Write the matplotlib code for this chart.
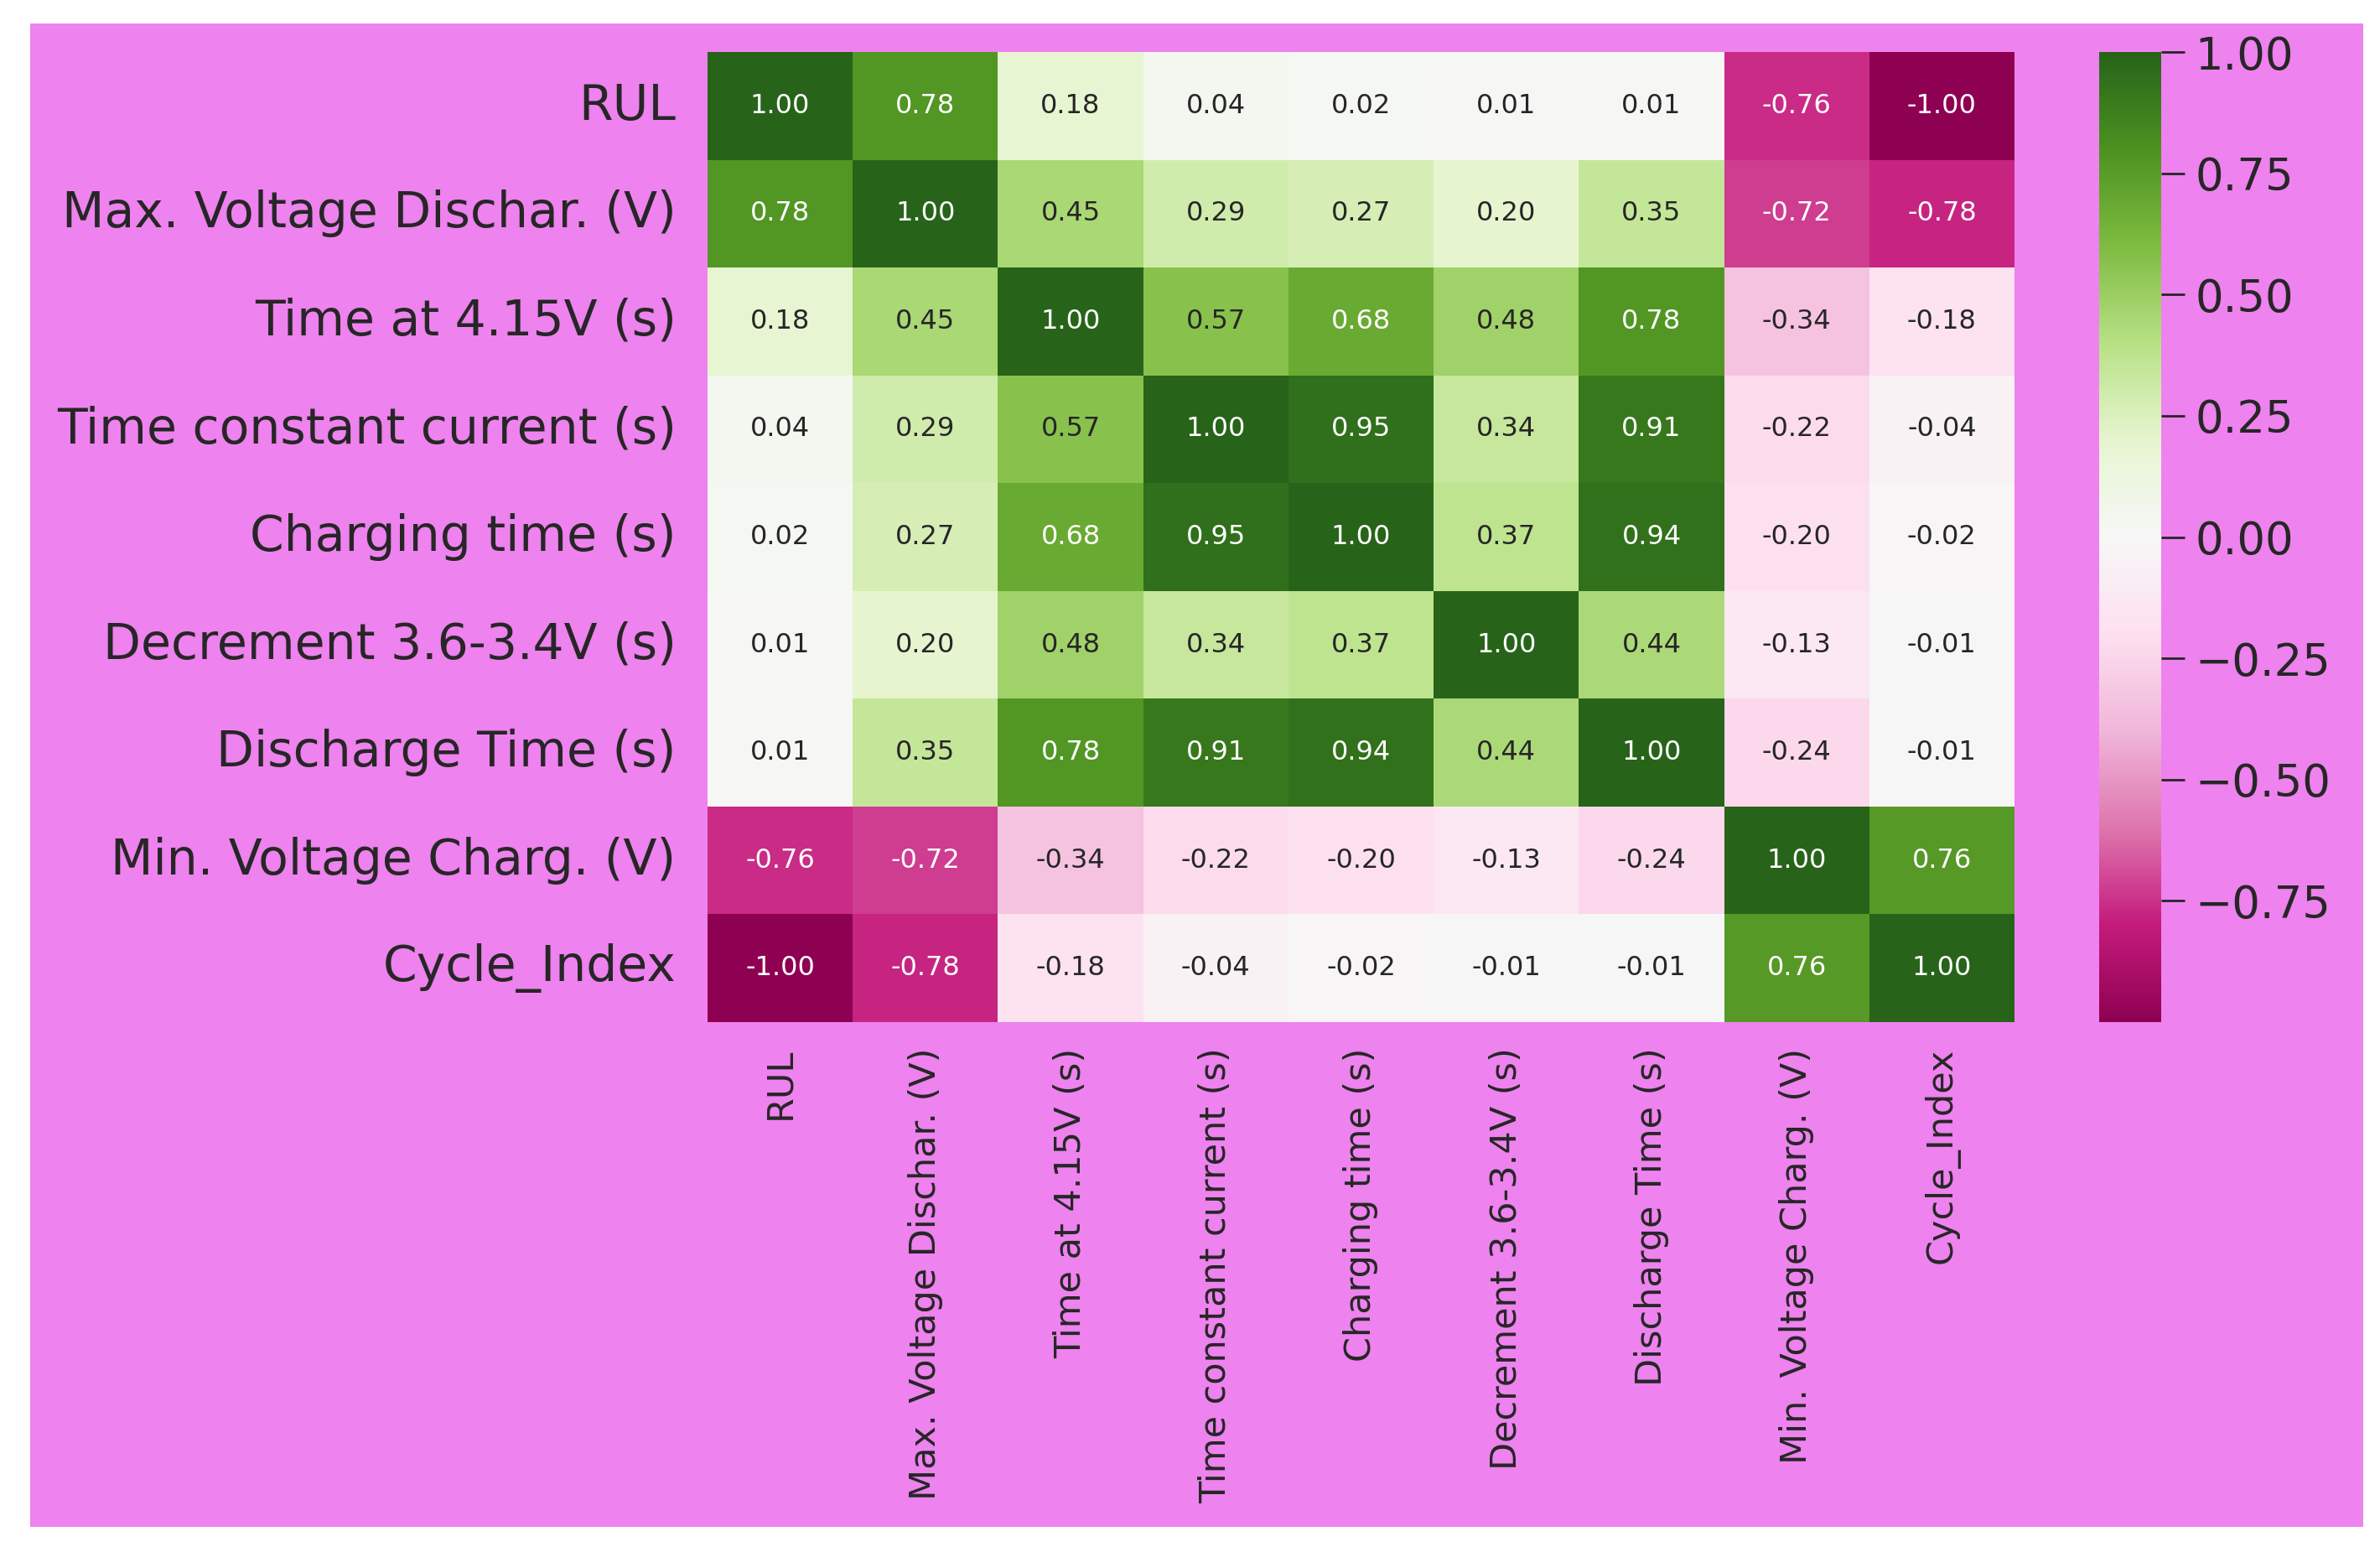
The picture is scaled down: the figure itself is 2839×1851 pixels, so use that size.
import numpy as np
import pandas as pd
import matplotlib
matplotlib.use("Agg")
import matplotlib.pyplot as plt
import seaborn as sns
from matplotlib.patches import Rectangle

# feature names (rows = columns)
features = ["RUL", "Max. Voltage Dischar. (V)", "Time at 4.15V (s)",
            "Time constant current (s)", "Charging time (s)",
            "Decrement 3.6-3.4V (s)", "Discharge Time (s)",
            "Min. Voltage Charg. (V)", "Cycle_Index"]

# correlation rows
r_rul = [1.00, 0.78, 0.18, 0.04, 0.02, 0.01, 0.01, -0.76, -1.00]
r_maxv = [0.78, 1.00, 0.45, 0.29, 0.27, 0.20, 0.35, -0.72, -0.78]
r_t415 = [0.18, 0.45, 1.00, 0.57, 0.68, 0.48, 0.78, -0.34, -0.18]
r_tcc = [0.04, 0.29, 0.57, 1.00, 0.95, 0.34, 0.91, -0.22, -0.04]
r_chg = [0.02, 0.27, 0.68, 0.95, 1.00, 0.37, 0.94, -0.20, -0.02]
r_dec = [0.01, 0.20, 0.48, 0.34, 0.37, 1.00, 0.44, -0.13, -0.01]
r_dis = [0.01, 0.35, 0.78, 0.91, 0.94, 0.44, 1.00, -0.24, -0.01]
r_minv = [-0.76, -0.72, -0.34, -0.22, -0.20, -0.13, -0.24, 1.00, 0.76]
r_cyc = [-1.00, -0.78, -0.18, -0.04, -0.02, -0.01, -0.01, 0.76, 1.00]

cbar_ticks = [-0.75, -0.5, -0.25, 0.0, 0.25, 0.5, 0.75, 1.0]

corr = pd.DataFrame([r_rul, r_maxv, r_t415, r_tcc, r_chg, r_dec, r_dis, r_minv, r_cyc],
                    index=features, columns=features)

txt = "#262626"

W, H = 2839, 1851
fig = plt.figure(figsize=(W / 100, H / 100), dpi=100, facecolor="white")
# pink panel with a thin white border around it
fig.add_artist(Rectangle((36 / W, 1 - 1821 / H), (2819 - 36) / W, (1821 - 28) / H,
                         transform=fig.transFigure, facecolor="violet",
                         edgecolor="none", zorder=-1))

ax = fig.add_axes([844 / W, 1 - 1219 / H, (2403 - 844) / W, (1219 - 62) / H])
cax = fig.add_axes([2504 / W, 1 - 1219 / H, (2578 - 2504) / W, (1219 - 62) / H])
ax.set_facecolor("violet")

sns.heatmap(corr, ax=ax, cbar_ax=cax, cmap="PiYG", vmin=-1, vmax=1,
            annot=True, fmt=".2f", annot_kws={"size": 23},
            cbar_kws={"ticks": cbar_ticks})

ax.tick_params(axis="y", length=0, pad=27, labelsize=42, labelcolor=txt)
ax.tick_params(axis="x", length=0, pad=22, labelsize=31, labelcolor=txt)
plt.setp(ax.get_yticklabels(), rotation=0, va="center")
plt.setp(ax.get_xticklabels(), rotation=90, ha="center", va="top")

cax.tick_params(labelsize=38, length=20, width=2, pad=9, colors=txt)

fig.savefig("out.png", dpi=100, facecolor="white")
